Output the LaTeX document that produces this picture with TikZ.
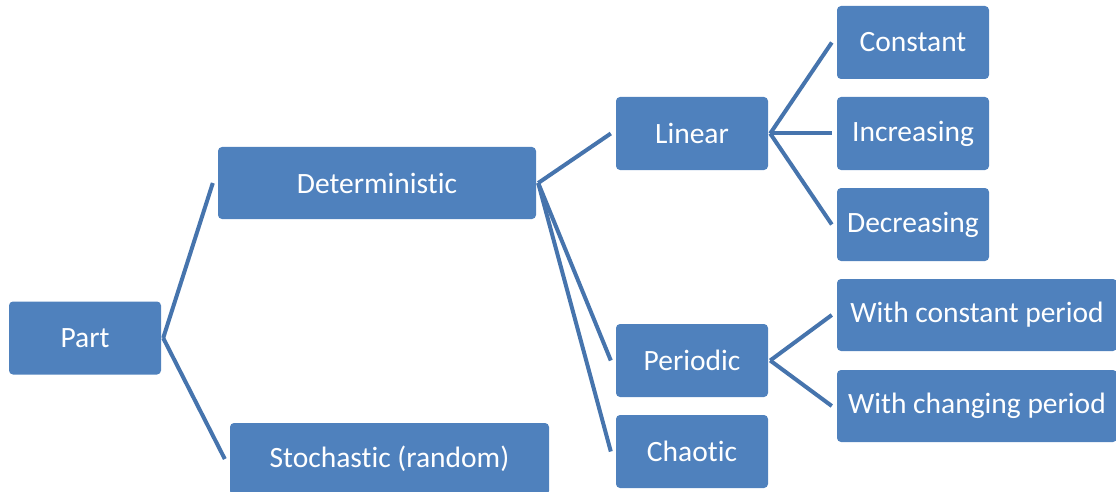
\documentclass[tikz,border=0pt]{standalone}
\usepackage{fontspec}
\setmainfont[Ligatures=NoCommon]{Carlito}
\usetikzlibrary{calc}
\definecolor{boxblue}{HTML}{4F81BD}
\definecolor{lineblue}{HTML}{4674AD}
\begin{document}
\begin{tikzpicture}[x=1pt,y=-1pt,
  box/.style={fill=boxblue, rounded corners=4pt, text=white, minimum height=73pt, minimum width=152pt, inner sep=0pt, font=\fontsize{29.5}{34}\selectfont},
  conn/.style={draw=lineblue, line width=4pt}]
\useasboundingbox (0,0) rectangle (1116,492);
\node[box] (part) at (85,338) {Part};
\node[box, minimum width=318pt, minimum height=72pt] (det) at (377,183) {Deterministic};
\node[box, minimum width=319pt, minimum height=72pt] (sto) at (389.5,459) {Stochastic (random)};
\node[box] (lin) at (692,133.5) {Linear};
\node[box] (per) at (692,360.5) {Periodic};
\node[box] (cha) at (692,451.5) {Chaotic};
\node[box] (con) at (913,42.5) {Constant};
\node[box] (inc) at (913,133.5) {Increasing};
\node[box] (dec) at (913,224.5) {Decreasing};
\node[box, minimum width=280pt, minimum height=72pt] (wcp) at (977,315) {With constant period};
\node[box, minimum width=280pt, minimum height=72pt] (wch) at (977,406) {With changing period};
\foreach \a/\b in {part/det, part/sto, det/lin, det/per, det/cha, lin/con, lin/inc, lin/dec, per/wcp, per/wch}
  \draw[conn] ($(\a.east)+(2,0)$) -- ($(\b.west)+(-5,0)$);
\end{tikzpicture}
\end{document}
